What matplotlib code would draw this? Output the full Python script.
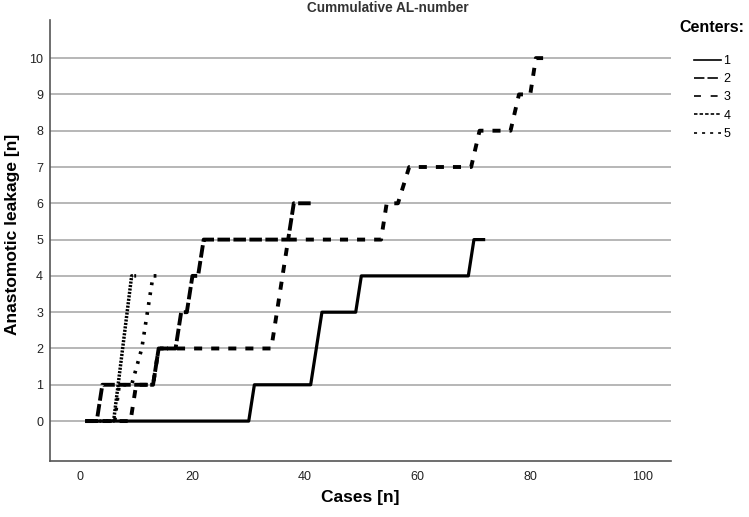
import matplotlib
matplotlib.use('Agg')
from matplotlib import pyplot as plt
from matplotlib.lines import Line2D

# Cumulative anastomotic leakage per center (case number, cumulative AL count).
cases_1 = [1, 30, 31, 41, 42, 43, 49, 50, 69, 70, 72]
al_1 = [0, 0, 1, 1, 2, 3, 3, 4, 4, 5, 5]

cases_2 = [1, 3, 4, 13, 14, 17, 18, 19, 20, 21, 22, 37, 38, 41]
al_2 = [0, 0, 1, 1, 2, 2, 3, 3, 4, 4, 5, 5, 6, 6]

cases_3 = [1, 9, 10, 13, 14, 34, 35, 36, 37, 53.5, 54.5, 56.5, 58.5,
           69.5, 71, 76.5, 78, 80, 81, 82.5]
al_3 = [0, 0, 1, 1, 2, 2, 3, 4, 5, 5, 6, 6, 7, 7, 8, 8, 9, 9, 10, 10]

cases_4 = [1, 6, 6.8, 7.6, 8.4, 9.2, 10]
al_4 = [0, 0, 1, 2, 3, 4, 4]

cases_5 = [1, 6.2, 7, 9.2, 11, 12, 13, 14]
al_5 = [0, 0, 1, 1, 2, 3, 4, 4]

center_labels = ['1', '2', '3', '4', '5']
x_ticks = [0, 20, 40, 60, 80, 100]
y_ticks = list(range(0, 11))

plt.rcParams['font.family'] = ['Liberation Sans', 'DejaVu Sans']
plt.rcParams['lines.scale_dashes'] = False

fig = plt.figure(figsize=(7.49, 5.17), dpi=100)
ax = fig.add_axes([50 / 749, 56 / 517, 621 / 749, 441 / 517])

# Gridlines first, then the curves on top.
for y in y_ticks:
    ax.axhline(y, color='#a3a3a3', lw=1.1, zorder=1)

styles = [
    dict(ls='-', lw=2.3),
    dict(ls=(0, (9, 2.5)), lw=2.8),
    dict(ls=(0, (5.8, 6.5)), lw=2.8),
    dict(ls=(0, (1.5, 1.0)), lw=2.5),
    dict(ls=(0, (2.0, 5.2)), lw=2.6),
]
series = [(cases_1, al_1), (cases_2, al_2), (cases_3, al_3),
          (cases_4, al_4), (cases_5, al_5)]
for (xs, ys), st in zip(series, styles):
    ax.plot(xs, ys, color='black', dash_capstyle='butt',
            solid_capstyle='butt', zorder=3, **st)

ax.set_xlim(-5.3, 105)
ax.set_ylim(-1.1, 11.05)
ax.set_xticks(x_ticks)
ax.set_yticks(y_ticks)
ax.tick_params(axis='both', length=0, labelsize=9, colors='#222222')
ax.tick_params(axis='x', pad=7)
ax.tick_params(axis='y', pad=5)

for side in ['top', 'right']:
    ax.spines[side].set_visible(False)
for side in ['left', 'bottom']:
    ax.spines[side].set_color('#555555')
    ax.spines[side].set_linewidth(1.2)

ax.set_xlabel('Cases [n]', fontsize=12.5, fontweight='bold')
ax.set_ylabel('Anastomotic leakage [n]', fontsize=12.5, fontweight='bold')
ax.xaxis.set_label_coords(0.5, -0.066)
ax.yaxis.set_label_coords(-0.049, 0.515)

fig.text(388 / 749, 1 - 8 / 517, 'Cummulative AL-number', ha='center',
         va='center', fontsize=9.8, fontweight='bold', color='#333333')

# Legend
fig.text(679 / 749, 1 - 28 / 517, 'Centers:', ha='left', va='center',
         fontsize=11.5, fontweight='bold')
legend_styles = ['-', (0, (7.5, 2.2)), (0, (5, 7)), (0, (2.5, 1.5)),
                 (0, (2.2, 3.6))]
handles = [Line2D([], [], color='black', lw=1.2, ls=s) for s in legend_styles]
fig.legend(handles, center_labels, loc='upper left',
           bbox_to_anchor=(694 / 749, 1 - 55 / 517), frameon=False,
           fontsize=9, handlelength=2.15, handletextpad=0.2,
           labelspacing=0.5, borderpad=0, borderaxespad=0)

fig.savefig('out.png', dpi=100)
